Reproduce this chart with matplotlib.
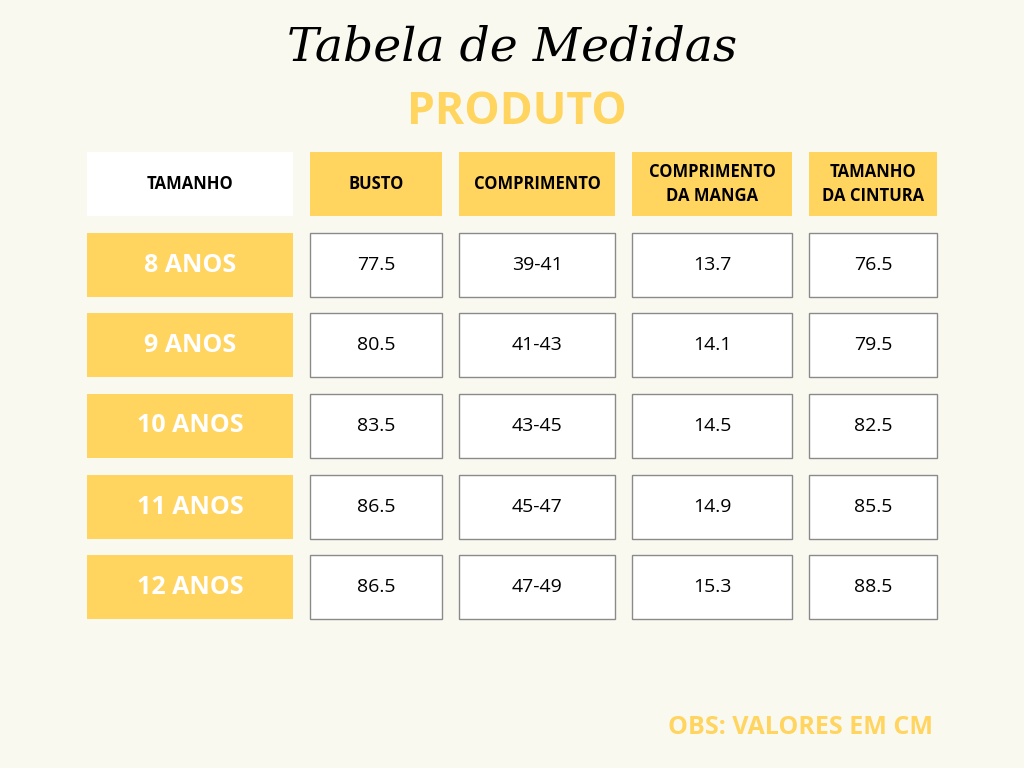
import matplotlib.pyplot as plt
from matplotlib.patches import Rectangle

headers = ["TAMANHO", "BUSTO", "COMPRIMENTO", "COMPRIMENTO\nDA MANGA", "TAMANHO\nDA CINTURA"]
sizes = ["8 ANOS", "9 ANOS", "10 ANOS", "11 ANOS", "12 ANOS"]
busto = ["77.5", "80.5", "83.5", "86.5", "86.5"]
comprimento = ["39-41", "41-43", "43-45", "45-47", "47-49"]
manga = ["13.7", "14.1", "14.5", "14.9", "15.3"]
cintura = ["76.5", "79.5", "82.5", "85.5", "88.5"]

BG = "#FAF9F0"
YEL = "#FFD45F"

col_l = [87, 310, 459, 632, 809]
col_r = [293, 442, 615, 792, 937]
hdr = (152, 216)
row_t = [233, 313, 394, 475, 555]
row_h = 64

fig = plt.figure(figsize=(10.24, 7.68), dpi=100, facecolor=BG)
ax = fig.add_axes([0, 0, 1, 1])
ax.set_xlim(0, 1024); ax.set_ylim(768, 0); ax.axis("off")
ax.set_facecolor(BG)

ax.text(512, 48, "Tabela de Medidas", ha="center", va="center", fontsize=34,
        style="italic", family="DejaVu Serif", color="black")
ax.text(517, 112, "PRODUTO", ha="center", va="center", fontsize=32,
        fontweight="bold", family="Open Sans", color=YEL)

for i, h in enumerate(headers):
    fc = "white" if i == 0 else YEL
    ax.add_patch(Rectangle((col_l[i], hdr[0]), col_r[i]-col_l[i], hdr[1]-hdr[0], fc=fc, ec="none"))
    ax.text((col_l[i]+col_r[i])/2, (hdr[0]+hdr[1])/2, h, ha="center", va="center",
            fontsize=12, fontweight="bold", family="Open Sans", linespacing=1.4)

cols = [busto, comprimento, manga, cintura]
for r, s in enumerate(sizes):
    t = row_t[r]
    ax.add_patch(Rectangle((col_l[0], t), col_r[0]-col_l[0], row_h, fc=YEL, ec="none"))
    ax.text((col_l[0]+col_r[0])/2, t+row_h/2, s, ha="center", va="center",
            fontsize=18, fontweight="bold", family="Open Sans", color="white")
    for c, vals in enumerate(cols):
        i = c + 1
        ax.add_patch(Rectangle((col_l[i], t), col_r[i]-col_l[i], row_h, fc="white", ec="#8a8a8a", lw=1))
        ax.text((col_l[i]+col_r[i])/2, t+row_h/2, vals[r], ha="center", va="center",
                fontsize=14, family="Open Sans", color="black")

ax.text(933, 727, "OBS: VALORES EM CM", ha="right", va="center", fontsize=18,
        fontweight="bold", family="Open Sans", color=YEL)

fig.savefig("out.png", dpi=100, facecolor=BG)
